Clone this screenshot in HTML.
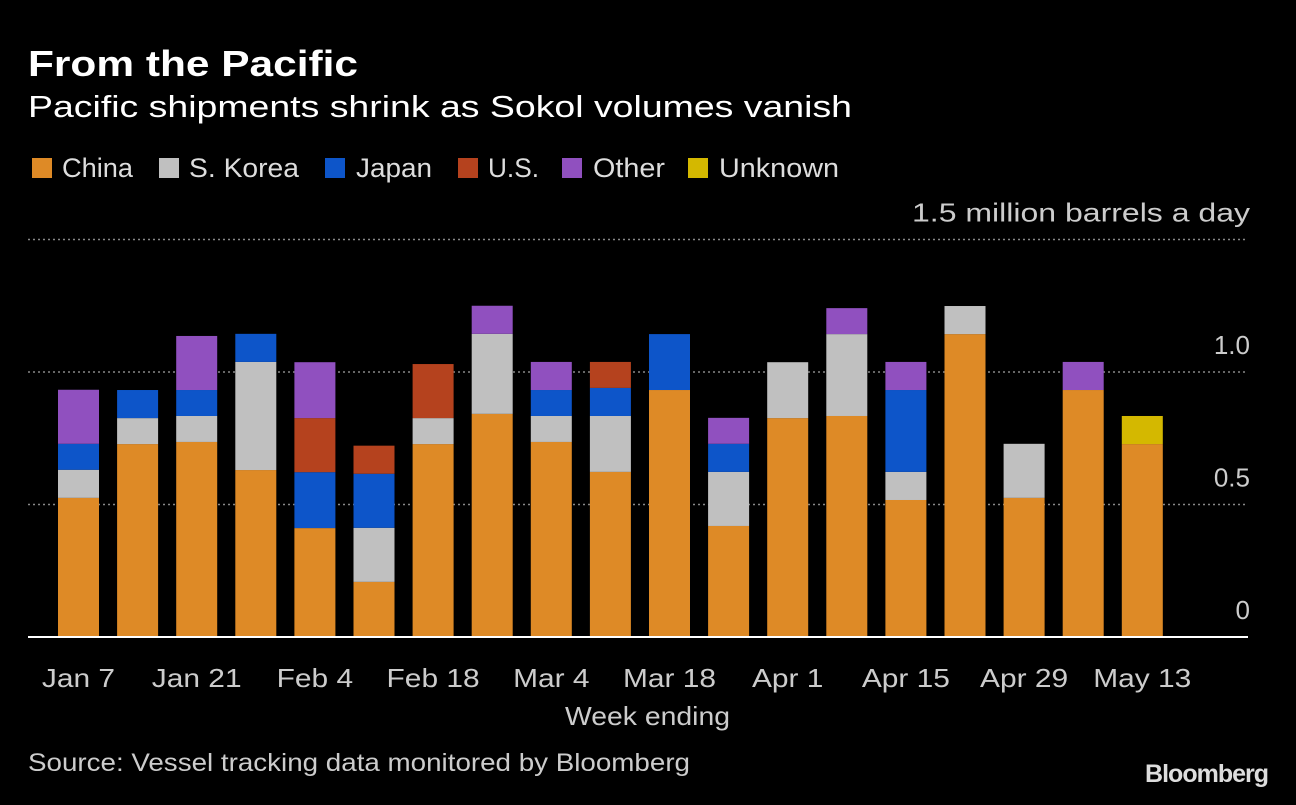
<!DOCTYPE html>
<html><head><meta charset="utf-8"><style>
body{margin:0;background:#000;width:1296px;height:800px;overflow:hidden;font-family:"Liberation Sans",sans-serif;color:#fff}
</style></head><body>
<svg width="1296" height="800" xmlns="http://www.w3.org/2000/svg" font-family="Liberation Sans, sans-serif">
<rect width="1296" height="800" fill="#000"/>
<text x="28" y="76" font-size="36" font-weight="bold" fill="#fff" textLength="330" lengthAdjust="spacingAndGlyphs">From the Pacific</text>
<text x="28" y="117" font-size="31" fill="#fff" textLength="824" lengthAdjust="spacingAndGlyphs">Pacific shipments shrink as Sokol volumes vanish</text>
<g id="legend"></g>
<g id="grid"></g>
<g id="bars"></g>
<g id="xaxis"></g>
<text x="565" y="725" font-size="26" fill="#ccc" textLength="165" lengthAdjust="spacingAndGlyphs">Week ending</text>
<text x="28" y="771" font-size="25" fill="#ccc" textLength="662" lengthAdjust="spacingAndGlyphs">Source: Vessel tracking data monitored by Bloomberg</text>
<text x="1268" y="782" font-size="25" font-weight="bold" fill="#ddd" text-anchor="end" letter-spacing="-1">Bloomberg</text>
</svg>
<script>
const categories=["Jan 7","Jan 14","Jan 21","Jan 28","Feb 4","Feb 11","Feb 18","Feb 25","Mar 4","Mar 11","Mar 18","Mar 25","Apr 1","Apr 8","Apr 15","Apr 22","Apr 29","May 6","May 13"];
const seriesNames=["China","S. Korea","Japan","U.S.","Other","Unknown"];
const seriesColors=["#de8a26","#c0c0c0","#0d55c9","#b5421e","#9050bf","#d4b800"];
const china=[0.525,0.728,0.736,0.63,0.411,0.208,0.728,0.842,0.736,0.623,0.932,0.419,0.826,0.834,0.517,1.143,0.525,0.932,0.728];
const skorea=[0.106,0.098,0.098,0.408,0,0.204,0.098,0.302,0.098,0.211,0,0.204,0.211,0.309,0.106,0.106,0.204,0,0];
const japan=[0.098,0.106,0.098,0.106,0.211,0.204,0,0,0.098,0.106,0.211,0.106,0,0,0.309,0,0,0,0];
const us=[0,0,0,0,0.204,0.106,0.204,0,0,0.098,0,0,0,0,0,0,0,0,0];
const other=[0.204,0,0.204,0,0.211,0,0,0.106,0.106,0,0,0.098,0,0.098,0.106,0,0,0.106,0];
const unknown=[0,0,0,0,0,0,0,0,0,0,0,0,0,0,0,0,0,0,0.106];
const yTicks=[0,0.5,1.0,1.5];
const yTickLabels=["0","0.5","1.0","1.5 million barrels a day"];
const series=[china,skorea,japan,us,other,unknown];
const NS="http://www.w3.org/2000/svg";
const y0=637,pxPer=265,x0=58,step=59.1,bw=41;
const yS=v=>y0-v*pxPer, xS=i=>x0+i*step;
function mk(tag,attrs,parent,txt){const e=document.createElementNS(NS,tag);for(const k in attrs)e.setAttribute(k,attrs[k]);if(txt!==undefined)e.textContent=txt;parent.appendChild(e);return e;}
const lg=document.getElementById('legend');
const lsx=[32,159,325,458,562,688],ltx=[62,189,356,488,593,719],ltw=[71,110,76,51,72,120];
seriesNames.forEach((n,i)=>{
 const r=mk('rect',{x:lsx[i],y:158,width:20,height:20,fill:seriesColors[i]},lg);
 
 
 const t=mk('text',{x:ltx[i],y:177,'font-size':27,fill:'#ddd',textLength:ltw[i],lengthAdjust:'spacingAndGlyphs'},lg,n);
 
 
});
const g=document.getElementById('grid');
yTicks.forEach((v,i)=>{
 if(v>0){const l=mk('line',{x1:28,x2:1248,y1:yS(v),y2:yS(v),stroke:'#888','stroke-width':1.5,'stroke-dasharray':'2,3'},g);
 
 }
 const t=mk('text',{x:1250,y:yS(v)-18,'font-size':26,fill:'#ccc','text-anchor':'end'},g,yTickLabels[i]);
 if(i===3){t.setAttribute('textLength',338);t.setAttribute('lengthAdjust','spacingAndGlyphs');}
 
 
});
const b=document.getElementById('bars');
categories.forEach((c,i)=>{
 let acc=0;
 series.forEach((s,k)=>{
  const v=s[i];if(!v)return;
  const r=mk('rect',{x:xS(i),y:yS(acc+v),width:bw,height:v*pxPer,fill:seriesColors[k]},b);
  
  
  acc+=v;
 });
});
const xa=document.getElementById('xaxis');
const ax=mk('line',{x1:28,x2:1248,y1:y0,y2:y0,stroke:'#fff','stroke-width':2},xa);


categories.forEach((c,i)=>{
 if(i%2)return;
 const cx=xS(i)+bw/2;
 const t=mk('text',{x:cx,y:687,'font-size':26,fill:'#ccc','text-anchor':'middle'},xa,c);
 const w=t.getComputedTextLength()*1.15;
 t.setAttribute('textLength',w);
 t.setAttribute('lengthAdjust','spacingAndGlyphs');
 
 
});
</script>
</body></html>
